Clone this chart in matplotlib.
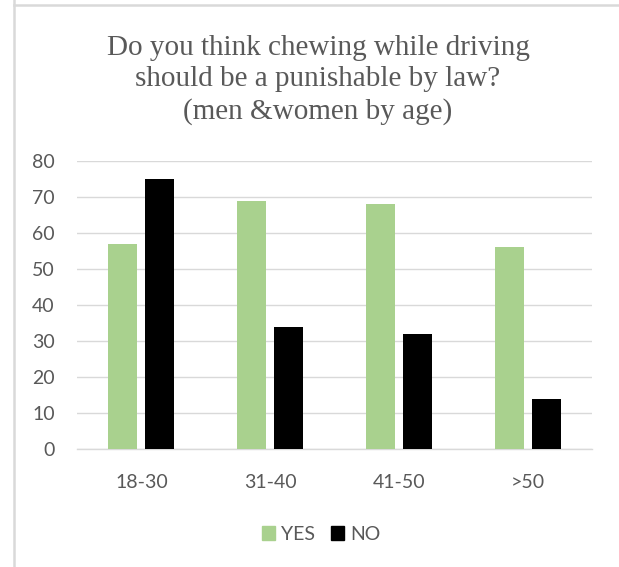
import matplotlib
matplotlib.use("Agg")
import matplotlib.pyplot as plt
import numpy as np
from matplotlib.lines import Line2D
from matplotlib.patches import Patch

ages = ['18-30', '31-40', '41-50', '>50']
yes_vals = [57, 69, 68, 56]
no_vals = [75, 34, 32, 14]
yticks = [0, 10, 20, 30, 40, 50, 60, 70, 80]

green = '#A9D18E'
black = '#000000'
grey_txt = '#595959'
grid_col = '#D9D9D9'

fig = plt.figure(figsize=(6.19, 5.67), dpi=100)
ax = fig.add_axes([77 / 619, 1 - 449 / 567, (592 - 77) / 619, (449 - 161) / 567])

x = np.arange(len(ages))
w = 0.225
ax.bar(x - 0.143, yes_vals, w, color=green, zorder=3)
ax.bar(x + 0.143, no_vals, w, color=black, zorder=3)

ax.set_xlim(-0.5, len(ages) - 0.5)
ax.set_ylim(0, 80)
ax.set_yticks(yticks)
ax.set_xticks(x)
ax.set_xticklabels(ages)
for s in ['top', 'right', 'left']:
    ax.spines[s].set_visible(False)
ax.spines['bottom'].set_color(grid_col)
ax.spines['bottom'].set_linewidth(1.0)
ax.yaxis.grid(True, color=grid_col, linewidth=1.0, zorder=0)
ax.set_axisbelow(True)
ax.tick_params(axis='both', length=0, labelsize=14, labelcolor=grey_txt)
ax.tick_params(axis='y', pad=16)
ax.tick_params(axis='x', pad=18)
for lab in ax.get_xticklabels() + ax.get_yticklabels():
    lab.set_family('Lato')

fig.text(318 / 619, 1 - 80 / 567,
         'Do you think chewing while driving\nshould be a punishable by law?\n(men &women by age)',
         ha='center', va='center', fontsize=21, family='Liberation Serif',
         color=grey_txt, linespacing=1.27)

handles = [Patch(color=green, label='YES'), Patch(color=black, label='NO')]
fig.legend(handles=handles, loc='center', bbox_to_anchor=(321 / 619, 1 - 534 / 567),
           ncol=2, frameon=False, handlelength=0.7, handleheight=0.7,
           handletextpad=0.3, columnspacing=0.8,
           prop={'family': 'Lato', 'size': 14}, labelcolor=grey_txt)

# outer frame lines
fig.add_artist(Line2D([14 / 619, 14 / 619], [0, 1], color=grid_col, linewidth=1.8))
fig.add_artist(Line2D([14 / 619, 1], [1 - 5 / 567, 1 - 5 / 567], color=grid_col, linewidth=1.8))

fig.savefig('out.png', dpi=100)
